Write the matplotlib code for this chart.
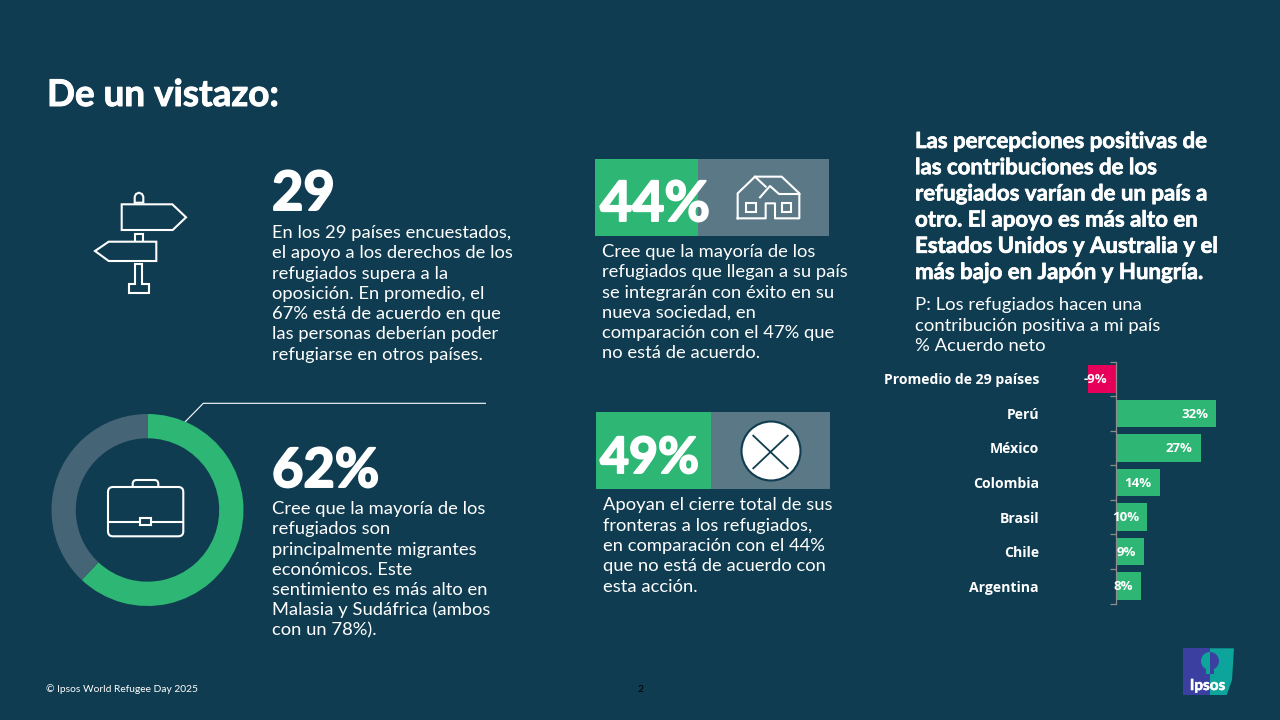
import matplotlib
matplotlib.use('Agg')
import matplotlib.pyplot as plt
import matplotlib.patheffects as pe
from matplotlib.patches import Polygon, Rectangle, FancyBboxPatch, Circle, Wedge

### Data:
donutValues = [62, 38]
countryNames = ['Promedio de 29 países', 'Perú', 'México', 'Colombia', 'Brasil', 'Chile', 'Argentina']
netAgree = [-9, 32, 27, 14, 10, 9, 8]

titleText = 'De un vistazo:'
blockOne = ['En los 29 países encuestados,', 'el apoyo a los derechos de los', 'refugiados supera a la',
            'oposición. En promedio, el', '67% está de acuerdo en que', 'las personas deberían poder',
            'refugiarse en otros países.']
blockTwo = ['Cree que la mayoría de los', 'refugiados son', 'principalmente migrantes', 'económicos. Este',
            'sentimiento es más alto en', 'Malasia y Sudáfrica (ambos', 'con un 78%).']
blockThree = ['Cree que la mayoría de los', 'refugiados que llegan a su país', 'se integrarán con éxito en su',
              'nueva sociedad, en', 'comparación con el 47% que', 'no está de acuerdo.']
blockFour = ['Apoyan el cierre total de sus', 'fronteras a los refugiados,', 'en comparación con el 44%',
             'que no está de acuerdo con', 'esta acción.']
headerLines = ['Las percepciones positivas de', 'las contribuciones de los', 'refugiados varían de un país a',
               'otro. El apoyo es más alto en', 'Estados Unidos y Australia y el', 'más bajo en Japón y Hungría.']
questionLines = ['P: Los refugiados hacen una', 'contribución positiva a mi país', '% Acuerdo neto']

### Colours:
BG = '#0F3C50'
GREEN = '#2DB674'
RING = '#456577'
BOX = '#5A7886'
PINK = '#E6005A'
BODY_FONT = 'Lato'

fig = plt.figure(figsize=(12.8, 7.2), dpi=100, facecolor=BG)

# Full canvas axis in pixels, for the text and the icons:
canvas = fig.add_axes([0, 0, 1, 1])
canvas.set_xlim(0, 1280)
canvas.set_ylim(720, 0)
canvas.axis('off')


def pxAxes(left, top, right, bottom):
    return fig.add_axes([left / 1280, 1 - bottom / 720, (right - left) / 1280, (bottom - top) / 720])


def heavyText(x, y, label, size, stroke, **kwargs):
    # Lato has no black cut here, a thin stroke makes up for it:
    return canvas.text(x, y, label, fontsize=size, fontweight='bold', color='white', family=BODY_FONT,
                       path_effects=[pe.withStroke(linewidth=stroke, foreground='white')], **kwargs)


def drawLines(x, baseline, step, lines, size):
    for i, eachLine in enumerate(lines):
        canvas.text(x, baseline + i * step, eachLine, fontsize=size, color='white',
                    family=BODY_FONT, va='baseline', ha='left')


def outline(points, closed=True, lw=1.5, color='white'):
    canvas.add_patch(Polygon(points, closed=closed, fill=False, edgecolor=color, linewidth=lw, joinstyle='miter'))


######################################## Texts ########################################

heavyText(47, 106, titleText, 26.5, 0.7)
drawLines(272, 238, 20.3, blockOne, 13.2)
drawLines(272, 514, 20.3, blockTwo, 13.2)
drawLines(602, 257, 20.3, blockThree, 13.2)
drawLines(603, 510, 20.5, blockFour, 13.2)
for i, eachLine in enumerate(headerLines):
    heavyText(915, 148 + i * 26.2, eachLine, 16, 0.5)
drawLines(915, 310, 20.5, questionLines, 13.3)

heavyText(272, 210, '29', 39, 1.4)
heavyText(272, 487, '62%', 39, 1.4)

canvas.text(46, 692, '© Ipsos World Refugee Day 2025', fontsize=7.4, color='white', family=BODY_FONT)
canvas.text(640, 692, '2', fontsize=7.5, color='black', family=BODY_FONT, ha='center')

######################################## Signpost icon ########################################

outline([(121.7, 204.3), (172.3, 204.3), (186, 217.3), (172.7, 230), (121.7, 230)])
outline([(156.3, 241.7), (156.3, 261), (108.7, 261), (95, 251), (108.7, 241.7)])
outline([(134.7, 241), (134.7, 234), (143.3, 234), (143.3, 241)], closed=False)
outline([(134.7, 202.7), (134.7, 196.7), (136, 194), (138.9, 192.7), (142, 194), (143.3, 196.7), (143.3, 202.7)])
outline([(135.3, 284), (135.3, 264), (142.3, 264), (142.3, 284), (149.3, 284), (149.3, 293.3), (128.7, 293.3), (128.7, 284)])

######################################## Donut ########################################

donutAx = pxAxes(47.5, 410, 247.5, 610)
donutAx.pie(donutValues, colors=[GREEN, RING], startangle=90, counterclock=False, radius=96 / 100,
            wedgeprops={'width': 24.3 / 100, 'linewidth': 0})
donutAx.set_xlim(-1, 1)
donutAx.set_ylim(-1, 1)

outline([(183.3, 423.7), (203.3, 403.3), (486, 403.3)], closed=False, lw=0.8)

# Briefcase:
canvas.add_patch(FancyBboxPatch((132.7, 480), 25.6, 12, boxstyle='round,pad=0,rounding_size=4', fill=True,
                                facecolor=BG, edgecolor='white', linewidth=1.5))
canvas.add_patch(Rectangle((125, 488), 45, 6, facecolor=BG, edgecolor='none'))
canvas.plot([108.5, 183], [522, 522], color='white', lw=1.5)
canvas.add_patch(FancyBboxPatch((108, 487), 75.3, 49.3, boxstyle='round,pad=0,rounding_size=5', fill=False,
                                edgecolor='white', linewidth=1.5))
canvas.add_patch(Rectangle((140, 517.7), 11, 7.6, facecolor=BG, edgecolor='white', linewidth=1.5, zorder=3))

######################################## Number boxes ########################################

canvas.add_patch(Rectangle((595, 159), 103, 77, facecolor=GREEN, edgecolor='none', zorder=0))
canvas.add_patch(Rectangle((698, 159), 131, 77, facecolor=BOX, edgecolor='none', zorder=0))
canvas.add_patch(Rectangle((596, 412), 115, 76.5, facecolor=GREEN, edgecolor='none', zorder=0))
canvas.add_patch(Rectangle((711, 412), 119, 76.5, facecolor=BOX, edgecolor='none', zorder=0))

heavyText(600, 221, '44%', 40, 1.4)
heavyText(600, 473, '49%', 36, 1.4)

# House icon:
zx = lambda v: 590 + v / 3
zy = lambda v: 150 + v / 3
houseLines = [[(443, 205), (443, 130), (495, 80), (575, 80), (628, 130), (628, 205), (555, 205), (555, 160), (527, 160),
               (527, 205), (443, 205)],
              [(495, 80), (527, 110)],
              [(510, 142), (540, 108), (567, 132), (628, 132)]]
for eachLine in houseLines:
    canvas.plot([zx(a) for a, b in eachLine], [zy(b) for a, b in eachLine], color='white', lw=1.5)
canvas.add_patch(Rectangle((zx(468), zy(160)), 10, 8.7, fill=False, edgecolor='white', linewidth=1.5))
canvas.add_patch(Rectangle((zx(575), zy(160)), 9.7, 8.7, fill=False, edgecolor='white', linewidth=1.5))

# Cross icon:
canvas.add_patch(Circle((771, 451), 29.5, facecolor='white', edgecolor=BG, linewidth=1.5))
canvas.plot([753.3, 787.7], [435.7, 468.3], color=BG, lw=1.3)
canvas.plot([753.3, 787.7], [468.3, 435.7], color=BG, lw=1.3)

######################################## Bars ########################################

pxPerUnit = 3.14
barLeft, barRight = 1040, 1240
zeroPx = 1116
barAx = pxAxes(barLeft, 361.5, barRight, 603.5)
barAx.patch.set_alpha(0)
barColors = [GREEN if v >= 0 else PINK for v in netAgree]
barAx.barh(range(len(netAgree)), netAgree, height=0.8, color=barColors)
barAx.set_xlim((barLeft - zeroPx) / pxPerUnit, (barRight - zeroPx) / pxPerUnit)
barAx.set_ylim(len(netAgree) - 0.5, -0.5)

for i, v in enumerate(netAgree):
    barAx.annotate(f'{v}%', xy=(max(v, 0), i), xytext=(-6, -0.5), textcoords='offset points', ha='right',
                   va='center', color='white', fontsize=9.5, fontweight='bold', family='Open Sans')

for eachSide in ['top', 'right', 'bottom']:
    barAx.spines[eachSide].set_visible(False)
barAx.spines['left'].set_position(('data', 0))
barAx.spines['left'].set_color('#8C8C8C')
barAx.spines['left'].set_linewidth(0.9)
barAx.xaxis.set_visible(False)
barAx.set_yticks(range(len(countryNames)))
barAx.set_yticklabels(countryNames, fontsize=10.1, fontweight='bold', color='white', family='Open Sans')
barAx.tick_params(axis='y', which='major', length=0, pad=55.5)
barAx.set_yticks([i - 0.5 for i in range(len(netAgree) + 1)], minor=True)
barAx.tick_params(axis='y', which='minor', length=4, width=0.9, color='#8C8C8C')

######################################## Logo ########################################

canvas.add_patch(Rectangle((1183.3, 648.3), 26.7, 46.7, facecolor='#3B3F9F', edgecolor='none'))
canvas.add_patch(Polygon([(1210, 648.3), (1234, 648.3), (1232, 680), (1226.7, 695), (1210, 695)],
                         facecolor='#0DA59B', edgecolor='none'))
canvas.add_patch(Wedge((1210, 661), 9, 90, 270, facecolor='#0DA59B', edgecolor='none'))
canvas.add_patch(Wedge((1210, 661), 9, 270, 90, facecolor='#3B3F9F', edgecolor='none'))
canvas.add_patch(Rectangle((1206, 668), 4, 6, facecolor='#0DA59B', edgecolor='none'))
canvas.add_patch(Rectangle((1210, 668), 4, 6, facecolor='#3B3F9F', edgecolor='none'))
heavyText(1207.5, 690, 'Ipsos', 11, 0.4, ha='center')

fig.savefig('out.png', dpi=100, facecolor=BG)
